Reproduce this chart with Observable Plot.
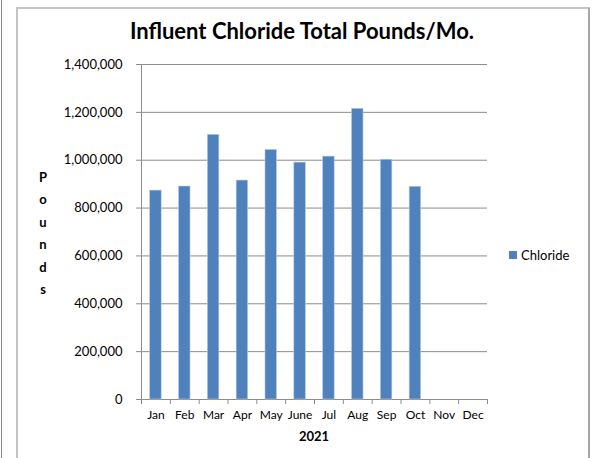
<!DOCTYPE html>
<html><head><meta charset="utf-8">
<script src="https://cdn.jsdelivr.net/npm/d3@7"></script>
<script src="https://cdn.jsdelivr.net/npm/@observablehq/plot@0.6"></script>
<style>
body{margin:0;background:#fff;}
#wrap{position:relative;width:595px;height:458px;overflow:hidden;font-family:Lato,sans-serif;color:#000;}
#wrap svg{position:absolute;left:0;top:0;}
.frame{position:absolute;left:16px;top:7px;width:570px;height:500px;border-left:2px solid #c4c4c4;border-top:2px solid #c4c4c4;border-right:2px solid #a6a6a6;}
.edge{position:absolute;left:1px;top:0;width:1px;height:458px;background:#8a8a8a;}
.title{position:absolute;left:102px;width:400px;top:17px;text-align:center;font-weight:bold;font-size:22px;}
.ylab{position:absolute;left:33px;width:20px;top:166px;text-align:center;font-weight:bold;font-size:13px;line-height:22.4px;}
.xlab{position:absolute;left:264px;width:100px;top:428px;text-align:center;font-weight:bold;font-size:13px;}
.legend{position:absolute;left:509px;top:247px;font-size:13px;display:flex;align-items:center;}
.legend span.sw{display:inline-block;width:8px;height:8px;background:#4F81BD;margin-right:4px;}
</style></head><body><div id="wrap"></div>
<script>
const months = ["Jan","Feb","Mar","Apr","May","June","Jul","Aug","Sep","Oct","Nov","Dec"];
const chloride = [873000, 890000, 1106000, 915000, 1043000, 990000, 1015000, 1215000, 1002000, 889000, null, null];
const yTicks = [0, 200000, 400000, 600000, 800000, 1000000, 1200000, 1400000];
const title = "Influent Chloride Total Pounds/Mo.";
const yLabel = "Pounds";
const xLabel = "2021";
const seriesName = "Chloride";
const barColor = "#4F81BD";

const data = months.map((m, i) => ({month: m, value: chloride[i]})).filter(d => d.value != null);

const W = 595, H = 458, ML = 141, MR = 108, MT = 64, MB = 59;
const step = (W - ML - MR) / months.length;

const chart = Plot.plot({
  width: W, height: H,
  marginLeft: ML, marginRight: MR, marginTop: MT, marginBottom: MB,
  style: {fontFamily: "Lato, sans-serif", fontSize: "12px", color: "#000", background: "transparent"},
  x: {domain: months, paddingInner: 0.6, paddingOuter: 0.3, round: false, axis: null},
  y: {domain: [0, 1400000], axis: null},
  marks: [
    Plot.ruleY(yTicks, {stroke: "#8c8c8c", strokeWidth: 1}),
    Plot.frame({anchor: "left", stroke: "#8c8c8c"}),
    Plot.barY(data, {x: "month", y: "value", fill: barColor, stroke: "#b9cde5", strokeWidth: 0.6}),
    Plot.axisY({ticks: yTicks, tickSize: 5, tickPadding: 14, tickFormat: d3.format(","), fontSize: 13, stroke: "#8c8c8c", fill: "#000", label: null}),
    Plot.axisX({tickSize: 5, tickFormat: () => "", dx: -step / 2, stroke: "#8c8c8c", label: null}),
    Plot.axisX({ticks: ["Dec"], tickSize: 5, tickFormat: () => "", dx: step / 2, stroke: "#8c8c8c", label: null}),
    Plot.axisX({tickSize: 0, tickPadding: 11, fontSize: 12, fill: "#000", label: null})
  ]
});

const wrap = document.getElementById("wrap");
wrap.innerHTML = `<div class="edge"></div><div class="frame"></div>`;
wrap.appendChild(chart);
const add = (cls, html) => { const d = document.createElement("div"); d.className = cls; d.innerHTML = html; wrap.appendChild(d); };
add("title", title);
add("ylab", yLabel.split("").join("<br>"));
add("xlab", xLabel);
add("legend", `<span class="sw"></span><span>${seriesName}</span>`);
</script>
</body></html>
